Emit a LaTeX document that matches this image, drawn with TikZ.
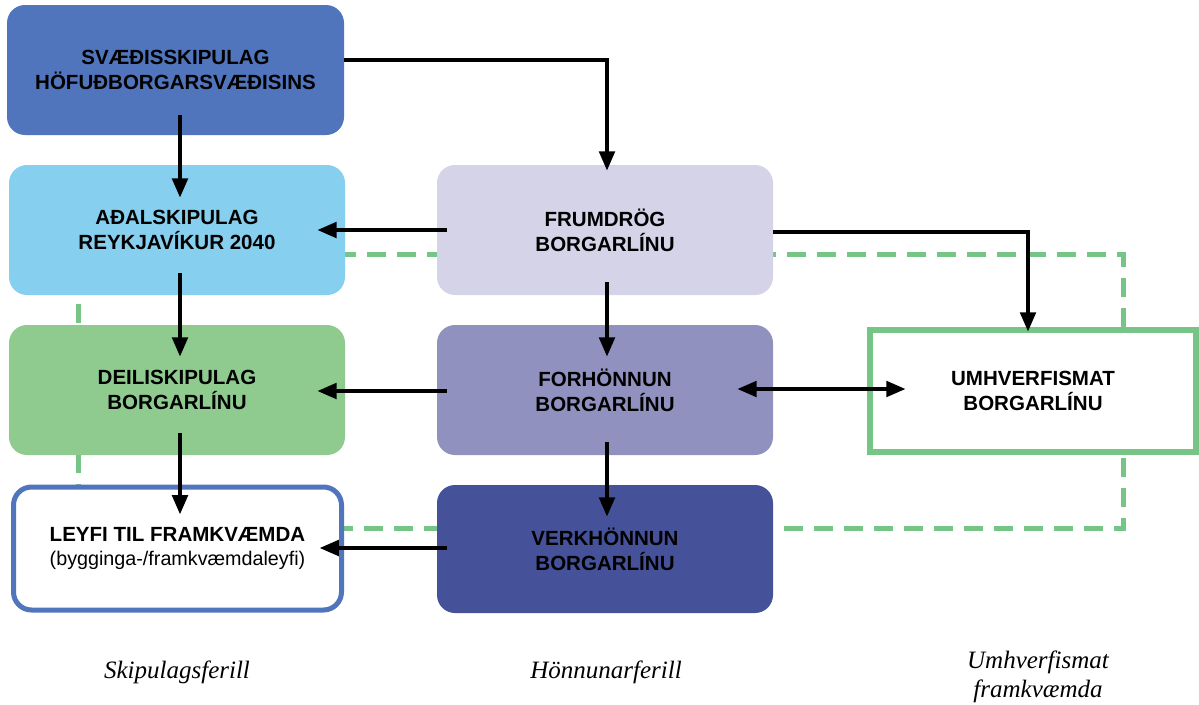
\documentclass[tikz,border=0pt]{standalone}
\usepackage{fontspec}
\setmainfont{Liberation Sans}
\newfontfamily\serifit{Liberation Serif}
\usetikzlibrary{arrows.meta,calc}
\definecolor{cSvd}{HTML}{5075BD}
\definecolor{cAdal}{HTML}{87CFEE}
\definecolor{cDeili}{HTML}{8FCB8F}
\definecolor{cFrum}{HTML}{D4D3E7}
\definecolor{cForh}{HTML}{9191BF}
\definecolor{cVerk}{HTML}{45529A}
\definecolor{cGreen}{HTML}{77C487}
\begin{document}
\begin{tikzpicture}[x=0.75pt,y=-0.75pt,
  box/.style={rounded corners=13.5pt, minimum width=252pt, minimum height=97.5pt,
    align=center, inner sep=0pt, font=\fontsize{15.4pt}{18.75pt}\selectfont\bfseries},
  arr/.style={line width=3pt, -{Triangle[length=14.5pt,width=11.5pt]}},
  darr/.style={line width=3pt, {Triangle[length=14.5pt,width=11.5pt]}-{Triangle[length=14.5pt,width=11.5pt]}},
  gdash/.style={draw=cGreen, line width=3.75pt, dash pattern=on 14.25pt off 8.25pt, dash phase=7.5pt},
  lab/.style={align=center, inner sep=0pt, font=\serifit\itshape\fontsize{18.75pt}{21.75pt}\selectfont}]
\useasboundingbox (0,0) rectangle (1199,704);
\fill[white] (0,0) rectangle (1199,704);
% dashed green frame behind everything
\coordinate (g1) at (78,254);
\coordinate (g2) at (78,528);
\coordinate (g3) at (1123,528);
\coordinate (g4) at (1123,254);
\draw[gdash] (g1) -- (g2) -- (g3) -- (g4) -- cycle;
% boxes
\node[box, fill=cSvd, minimum width=252.75pt] (svd) at (175.5,70) {SVÆÐISSKIPULAG\\HÖFUÐBORGARSVÆÐISINS};
\node[box, fill=cAdal] (adal) at (177,230) {AÐALSKIPULAG\\REYKJAVÍKUR 2040};
\node[box, fill=cDeili] (deili) at (177,390) {DEILISKIPULAG\\BORGARLÍNU};
\node[box, fill=white, draw=cSvd, line width=3.75pt, minimum width=246pt, minimum height=92.25pt] (leyfi) at (177.5,548.5)
  {LEYFI TIL FRAMKVÆMDA\\[-1pt]{\mdseries\fontsize{14.8pt}{18pt}\selectfont (bygginga-/framkvæmdaleyfi)}};
\node[box, fill=cFrum] (frum) at (605,230) {FRUMDRÖG\\BORGARLÍNU};
\node[box, fill=cForh] (forh) at (605,390) {FORHÖNNUN\\BORGARLÍNU};
\node[box, fill=cVerk, minimum height=96pt] (verk) at (605,549) {VERKHÖNNUN\\BORGARLÍNU};
\node[box, fill=white, draw=cGreen, line width=5pt, rounded corners=0pt, minimum width=244.5pt, minimum height=91.5pt] (umh) at (1033,391)
  {UMHVERFISMAT\\BORGARLÍNU};
% arrows
\draw[arr] ($(svd.south)+(4.5,-20)$) -- ($(adal.north)+(3,33)$);
\draw[arr] ($(adal.south)+(3,-22)$) -- ($(deili.north)+(3,32)$);
\draw[arr] ($(deili.south)+(3,-22)$) -- ($(leyfi.north)+(2.5,30)$);
\draw[arr, rounded corners=0pt] ($(svd.east)+(0,-10)$) -| ($(frum.north)+(2,6)$);
\draw[arr] ($(frum.west)+(10,0)$) -- ($(adal.east)+(-28,0)$);
\draw[arr] ($(frum.south)+(2,-13)$) -- ($(forh.north)+(2,32)$);
\draw[arr] ($(frum.east)+(0,2)$) -| ($(umh.north)+(-5,5)$);
\draw[darr] ($(forh.east)+(-36,-1)$) -- ($(umh.west)+(39,-2)$);
\draw[arr] ($(forh.west)+(10,1)$) -- ($(deili.east)+(-28,1)$);
\draw[arr] ($(forh.south)+(2,-13)$) -- ($(verk.north)+(2,32)$);
\draw[arr] ($(verk.west)+(10,-1)$) -- ($(leyfi.east)+(-24.5,-0.5)$);
% column labels
\node[lab] (l1) at (177,672) {Skipulagsferill};
\node[lab] (l2) at (606,672) {Hönnunarferill};
\node[lab] (l3) at (1038,677) {Umhverfismat\\framkvæmda};
\end{tikzpicture}
\end{document}
